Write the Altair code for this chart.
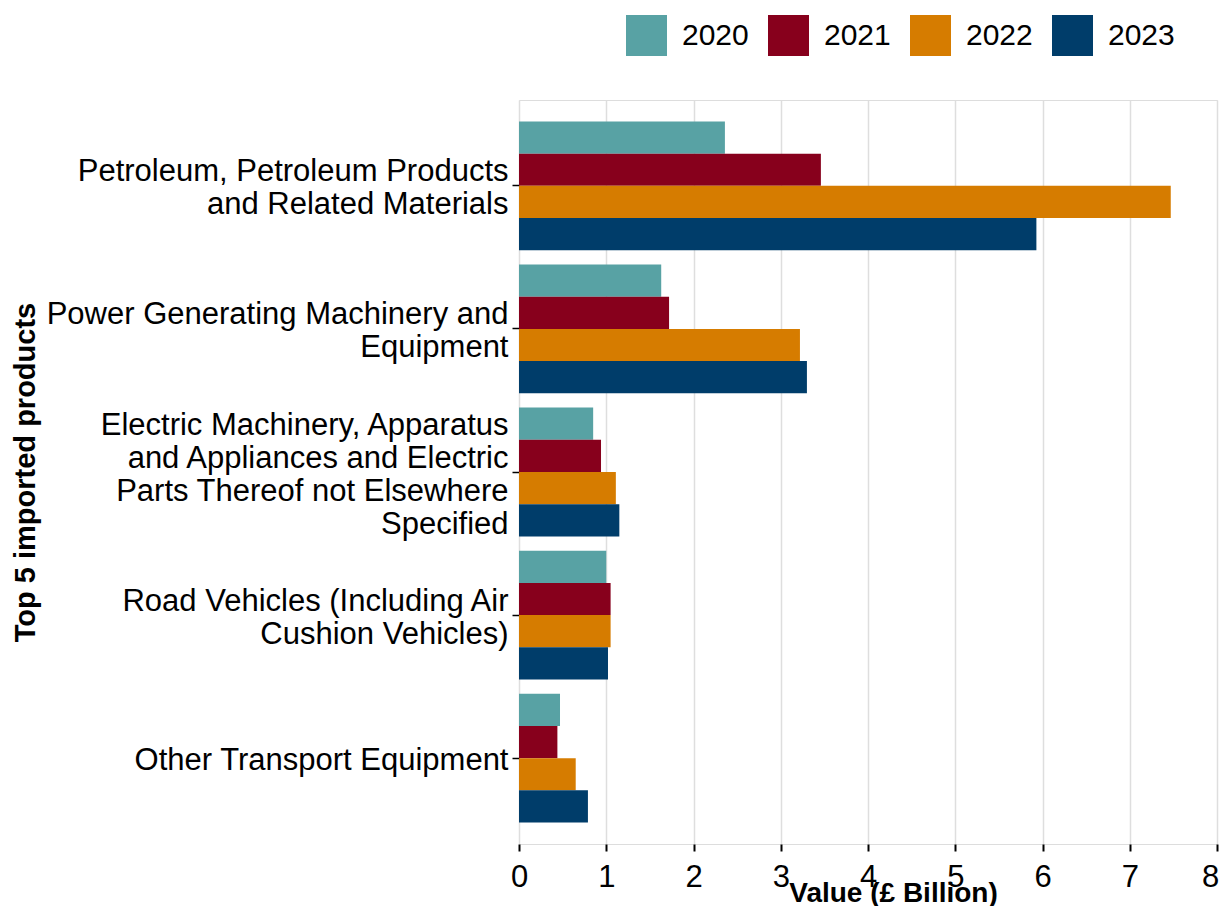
import altair as alt
import pandas as pd

products = [
    "Petroleum, Petroleum Products|and Related Materials",
    "Power Generating Machinery and|Equipment",
    "Electric Machinery, Apparatus|and Appliances and Electric|Parts Thereof not Elsewhere|Specified",
    "Road Vehicles (Including Air|Cushion Vehicles)",
    "Other Transport Equipment",
]
years = ["2020", "2021", "2022", "2023"]
values_2020 = [2.36, 1.63, 0.85, 1.00, 0.47]
values_2021 = [3.46, 1.72, 0.94, 1.05, 0.44]
values_2022 = [7.47, 3.22, 1.11, 1.05, 0.65]
values_2023 = [5.93, 3.30, 1.15, 1.02, 0.79]
colors = ["#58A2A4", "#87001C", "#D67C00", "#003D6A"]
x_ticks = [0, 1, 2, 3, 4, 5, 6, 7, 8]

series = {"2020": values_2020, "2021": values_2021, "2022": values_2022, "2023": values_2023}
rows = []
for y in years:
    for p, v in zip(products, series[y]):
        rows.append({"product": p, "year": y, "value": v})
df = pd.DataFrame(rows)

FONT = "Liberation Sans"

chart = (
    alt.Chart(df)
    .mark_bar()
    .encode(
        x=alt.X(
            "value:Q",
            scale=alt.Scale(domain=[0, 8], nice=False, zero=True),
            axis=alt.Axis(
                values=x_ticks,
                title="Value (£ Billion)",
                grid=True,
                gridColor="#DEDEDE",
                gridWidth=1.5,
                domain=False,
                tickColor="#000000",
                tickSize=7,
                tickWidth=2,
                labelFontSize=31,
                labelFont=FONT,
                labelColor="#000000",
                labelPadding=11,
                labelFlush=False,
                labelOverlap=False,
                labelOffset=alt.ExprRef("datum.value == 8 ? -7 : 0"),
                titleFont=FONT,
                titleFontSize=28,
                titleFontWeight="bold",
                titleColor="#000000",
                titleX=374,
                titleY=57,
                titleBaseline="alphabetic",
                titleAnchor="middle",
                titleAlign="center",
            ),
        ),
        y=alt.Y(
            "product:N",
            sort=products,
            scale=alt.Scale(paddingInner=0.1, paddingOuter=0.15),
            axis=alt.Axis(
                title="Top 5 imported products",
                grid=False,
                domain=False,
                tickColor="#000000",
                tickSize=7,
                tickWidth=1.5,
                labelFontSize=31,
                labelFont=FONT,
                labelColor="#000000",
                labelPadding=4,
                labelLimit=700,
                labelLineHeight=33,
                labelBaseline="middle",
                labelExpr="split(datum.label, '|')",
                labelOffset=alt.ExprRef("3 - (length(split(datum.value, '|')) - 1) * 16.5"),
                titleFont=FONT,
                titleFontSize=29,
                titleFontWeight="bold",
                titleColor="#000000",
                titleAngle=270,
                titleBaseline="alphabetic",
                titleX=-485,
                titleY=372,
                titleAlign="center",
            ),
        ),
        yOffset=alt.YOffset("year:N", sort=years, scale=alt.Scale(paddingInner=0, paddingOuter=0)),
        color=alt.Color(
            "year:N",
            sort=years,
            scale=alt.Scale(domain=years, range=colors),
            legend=alt.Legend(
                title=None,
                orient="none",
                direction="horizontal",
                legendX=107,
                legendY=-85,
                symbolType="square",
                symbolSize=1681,
                symbolStrokeWidth=0,
                symbolOpacity=1,
                labelFontSize=30,
                labelFont=FONT,
                labelColor="#000000",
                labelOffset=15,
                columnPadding=19,
                padding=0,
            ),
        ),
    )
    .properties(
        width=698,
        height=744,
        padding={"left": 511, "top": 92, "right": 2, "bottom": 62},
        autosize=alt.AutoSizeParams(type="none"),
    )
    .configure_view(stroke=None)
    .configure(background="white")
)

chart.save("out.html", embed_options={"renderer": "svg", "actions": False})
